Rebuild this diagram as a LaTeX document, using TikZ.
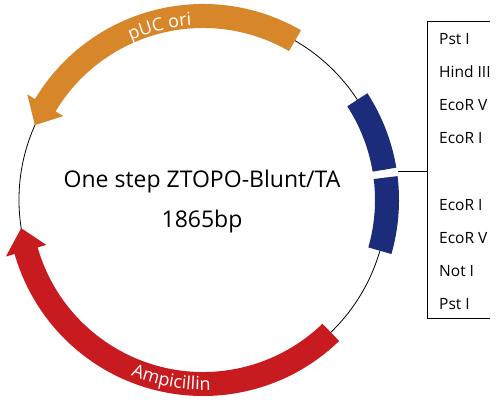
\documentclass[tikz,border=0pt]{standalone}
\usepackage{fontspec}
\setmainfont{Open Sans}
\usetikzlibrary{decorations.text}
\definecolor{oriorange}{RGB}{216,134,42}
\definecolor{ampred}{RGB}{200,27,32}
\definecolor{mcsblue}{RGB}{27,45,122}

\begin{document}
\begin{tikzpicture}[x=1pt, y=1pt, backbone/.style={draw=black, line width=0.8pt}, site/.style={anchor=west, inner sep=0pt, font=\fontsize{15.5}{18}\selectfont}, bracket/.style={draw=black, line width=1pt}]
			\useasboundingbox (0,0) rectangle (500,405);
			\begin{scope}[shift={(203,205)}]
			\draw[backbone] (9.5:184pt) arc[start angle=9.5, end angle=367, radius=184pt];
			% pUC ori
			\fill[oriorange] (60:196pt) arc[start angle=60, end angle=149, radius=196pt] -- (149:205pt) -- (156:184pt) -- (149:163pt) -- (149:172pt) arc[start angle=149, end angle=60, radius=172pt] -- cycle;
			\path[decorate, decoration={text along path, text align=center, text color=white, text={|\fontsize{18}{20}\selectfont|pUC ori}}] (124:175pt) arc[start angle=124, end angle=84, radius=175pt];
			% Ampicillin
			\fill[ampred] (-46:196pt) arc[start angle=-46, end angle=-164, radius=196pt] -- (-164:205pt) -- (-171.2:184pt) -- (-164:163pt) -- (-164:172pt) arc[start angle=-164, end angle=-46, radius=172pt] -- cycle;
			\path[decorate, decoration={text along path, text align=center, text color=white, text={|\fontsize{18}{20}\selectfont|Ampicillin}}] (-130:190pt) arc[start angle=-130, end angle=-70, radius=190pt];
			% MCS
			\fill[mcsblue] (33:172pt) -- (33:196pt) arc[start angle=33, end angle=9.5, radius=196pt] -- (9.5:172pt) arc[start angle=9.5, end angle=33, radius=172pt] -- cycle;
			\fill[mcsblue] (7:172pt) -- (7:196pt) arc[start angle=7, end angle=-16, radius=196pt] -- (-16:172pt) arc[start angle=-16, end angle=7, radius=172pt] -- cycle;
			\coordinate (gap) at (8.25:197pt);
			\end{scope}
			\node[font=\fontsize{23}{26}\selectfont] (name) at (202,223) {One step ZTOPO-Blunt/TA};
			\node[font=\fontsize{23}{26}\selectfont] (size) at (202,183) {1865bp};
			\coordinate (top) at (427,383);
			\coordinate (bottom) at (427,87);
			\coordinate (topend) at (490,383);
			\coordinate (bottomend) at (490,87);
			\draw[bracket] (topend) -- (top) -- (bottom) -- (bottomend);
			\draw[bracket] (gap) -- (gap -| top);
			\node[site] (pst1) at (439,366) {Pst I};
			\node[site] (hind) at (439,333) {Hind III};
			\node[site] (ecorv1) at (439,300) {EcoR V};
			\node[site] (ecori1) at (439,267) {EcoR I};
			\node[site] (ecori2) at (439,200) {EcoR I};
			\node[site] (ecorv2) at (439,167) {EcoR V};
			\node[site] (not) at (439,134) {Not I};
			\node[site] (pst2) at (439,101) {Pst I};
			\end{tikzpicture}
\end{document}
